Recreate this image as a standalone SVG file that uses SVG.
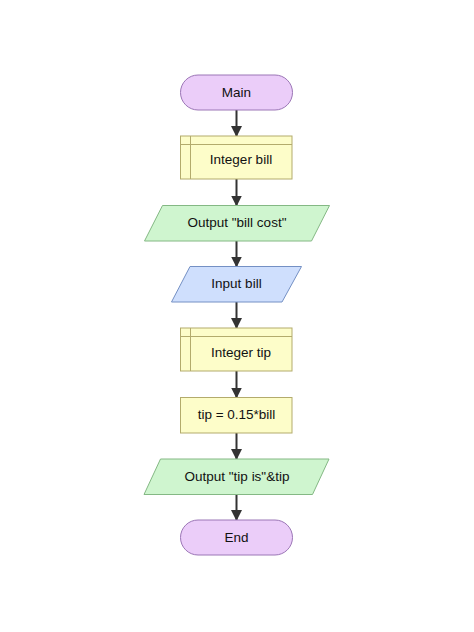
<svg xmlns="http://www.w3.org/2000/svg" width="474" height="632" viewBox="0 0 474 632">
<style>
text{font-family:"Liberation Sans",Arial,sans-serif;font-size:13.5px;fill:#111;text-anchor:middle;dominant-baseline:central}
.term{fill:#ebcdf9;stroke:#9b76b6;stroke-width:1}
.decl{fill:#fdfdc9;stroke:#b3ab6c;stroke-width:1}
.proc{fill:#fdfdc9;stroke:#b3ab6c;stroke-width:1}
.out{fill:#cff5cf;stroke:#84b884;stroke-width:1}
.in{fill:#cfdffd;stroke:#7490c4;stroke-width:1}
.edge{stroke:#333;stroke-width:2;fill:none;marker-end:url(#ah)}
</style>
<defs>
<marker id="ah" markerWidth="11" markerHeight="11" refX="10" refY="5.5" orient="auto" markerUnits="userSpaceOnUse">
<path d="M0,0 L11,5.5 L0,11 z" fill="#333"/>
</marker>
</defs>
<rect width="474" height="632" fill="#fff"/>
<g id="connectors">
<line class="edge" x1="236.5" y1="110" x2="236.5" y2="136"/>
<line class="edge" x1="236.5" y1="179" x2="236.5" y2="205.5"/>
<line class="edge" x1="236.5" y1="241" x2="236.5" y2="266.5"/>
<line class="edge" x1="236.5" y1="302" x2="236.5" y2="328"/>
<line class="edge" x1="236.5" y1="371" x2="236.5" y2="397.5"/>
<line class="edge" x1="236.5" y1="433" x2="236.5" y2="459"/>
<line class="edge" x1="236.5" y1="494.5" x2="236.5" y2="520"/>
</g>
<g id="main">
<rect class="term" x="180.5" y="75" width="112" height="35" rx="17.5"/>
<text x="236.5" y="92">Main</text>
</g>
<g id="decl-bill">
<rect class="decl" x="180.5" y="136" width="111.5" height="43"/>
<line class="decl" x1="190.5" y1="136" x2="190.5" y2="179"/>
<line class="decl" x1="180.5" y1="144.5" x2="292" y2="144.5"/>
<text x="241" y="159.5">Integer bill</text>
</g>
<g id="out-billcost">
<polygon class="out" points="162.5,205.5 329.5,205.5 311.5,241 144.5,241"/>
<text x="237" y="222.5">Output "bill cost"</text>
</g>
<g id="in-bill">
<polygon class="in" points="190,266.5 301.5,266.5 282,302 171.5,302"/>
<text x="236.5" y="283.5">Input bill</text>
</g>
<g id="decl-tip">
<rect class="decl" x="180.5" y="328" width="111.5" height="43"/>
<line class="decl" x1="190.5" y1="328" x2="190.5" y2="371"/>
<line class="decl" x1="180.5" y1="336.5" x2="292" y2="336.5"/>
<text x="241" y="352">Integer tip</text>
</g>
<g id="assign-tip">
<rect class="proc" x="180.5" y="397.5" width="111.5" height="35.5"/>
<text x="236.5" y="414.5">tip = 0.15*bill</text>
</g>
<g id="out-tip">
<polygon class="out" points="160.5,459 329,459 312.5,494.5 144,494.5"/>
<text x="237" y="476.5">Output "tip is"&amp;tip</text>
</g>
<g id="end">
<rect class="term" x="180.5" y="520" width="112" height="35" rx="17.5"/>
<text x="236.5" y="537">End</text>
</g>
</svg>
